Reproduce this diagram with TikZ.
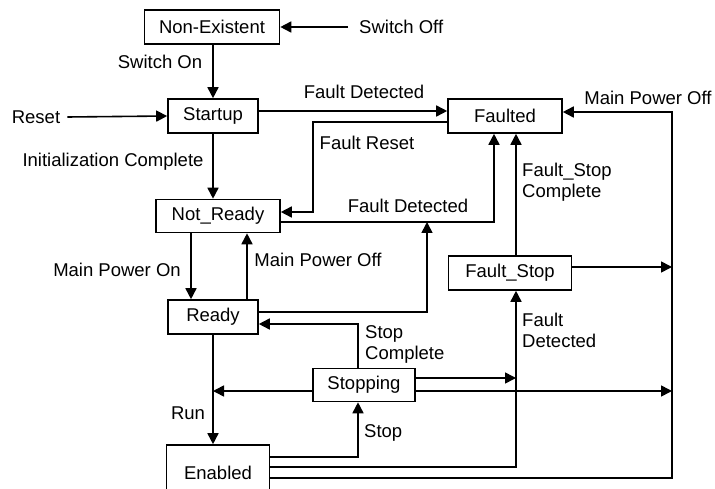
\documentclass[tikz,border=0pt]{standalone}
\usepackage{fontspec}
\setmainfont{Liberation Sans}
\usetikzlibrary{arrows.meta, positioning, calc}

\tikzset{
    state/.style={draw, line width=1.6pt, minimum height=34pt, inner sep=2pt},
    lbl/.style={inner sep=0pt, align=left},
    arr/.style={line width=1.6pt, -{Triangle[length=11pt, width=11pt]}},
}

\begin{document}
\begin{tikzpicture}[x=1pt, y=-1pt, font=\fontsize{18.5}{21}\selectfont]
    \useasboundingbox (0,0) rectangle (715,489);

    % states
    \node[state, minimum width=135pt] (nonex) at (212,27) {Non-Existent};
    \node[state, minimum width=90pt] (startup) at (213,116) {Startup};
    \node[state, minimum width=114pt] (faulted) at (505,116) {Faulted};
    \node[state, minimum width=124pt, minimum height=33pt] (notready) at (218,216) {Not\_Ready};
    \node[state, minimum width=90pt] (ready) at (213,317) {Ready};
    \node[state, minimum width=123pt] (faultstop) at (510,273) {Fault\_Stop};
    \node[state, minimum width=102pt, minimum height=33pt] (stopping) at (364,385) {Stopping};
    \node[state, minimum width=103pt, minimum height=56pt] (enabled) at (218,473) {Enabled};

    % outside events
    \node[lbl, anchor=west] (switchoff) at (359,27) {Switch Off};
    \node[lbl] (reset) at (36,117) {Reset};
    \coordinate (fdjoin) at (427,222);
    \coordinate (mpoff) at (672,112);
    \coordinate (fsrail) at ([xshift=6pt]faultstop.south);

    % transitions
    \draw[arr] ([xshift=-11pt]switchoff.west) -- (nonex.east);
    \draw[arr] (nonex.south -| startup.north) -- (startup.north);
    \draw[arr] ([xshift=7pt]reset.east) -- (startup.west);
    \draw[arr] (startup.south) -- (startup.south |- notready.north);
    \draw[arr] ([yshift=5pt]startup.east) -- ([yshift=5pt]faulted.west);
    \draw[arr] ([yshift=-6pt]faulted.west) -| (313,212) -- ([yshift=4pt]notready.east);
    \draw[arr] ([yshift=-6pt]notready.east) -| ([xshift=-11pt]faulted.south);
    \draw[arr] ([yshift=5pt]ready.east) -| (fdjoin);
    \draw[arr] ([xshift=-27pt]notready.south) -- ([xshift=-27pt]notready.south |- ready.north);
    \draw[arr] ([xshift=34pt]ready.north) -- ([xshift=34pt]ready.north |- notready.south);
    \draw[arr] ([xshift=-6pt]stopping.north) |- ([yshift=-7pt]ready.east);
    \draw[arr] (ready.south) -- (ready.south |- enabled.north);
    \draw[arr] ([yshift=-6pt]stopping.west) -- ([yshift=-6pt]stopping.west -| ready.south);
    \draw[arr] ([yshift=16pt]enabled.east) -| ([xshift=-6pt]stopping.south);
    \draw[arr] ([yshift=6pt]enabled.east) -| (fsrail);
    \draw[arr] ([yshift=7pt]stopping.east) -- ([yshift=7pt]stopping.east -| fsrail);
    \draw[arr] ([yshift=-6pt]stopping.east) -- ([yshift=-6pt]stopping.east -| mpoff);
    \draw[arr] ([yshift=-5pt]enabled.east) -| (mpoff) -- ([yshift=4pt]faulted.east);
    \draw[arr] ([yshift=6pt]faultstop.east) -- ([yshift=6pt]faultstop.east -| mpoff);
    \draw[arr] ([xshift=6pt]faultstop.north) -- ([xshift=6pt]faultstop.north |- faulted.south);

    % labels
    \node[lbl] at (160,62) {Switch On};
    \node[lbl] at (113,162) {Initialization Complete};
    \node[lbl] at (364,92) {Fault Detected};
    \node[lbl] at (367,143) {Fault Reset};
    \node[lbl] at (408,206) {Fault Detected};
    \node[lbl] at (117,270) {Main Power On};
    \node[lbl] at (318,260) {Main Power Off};
    \node[lbl] at (648,98) {Main Power Off};
    \node[lbl, anchor=west] at (522,182) {Fault\_Stop\\Complete};
    \node[lbl, anchor=west] at (365,344) {Stop\\Complete};
    \node[lbl, anchor=west] at (522,330) {Fault\\Detected};
    \node[lbl] at (188,413) {Run};
    \node[lbl, anchor=west] at (364,433) {Stop};
\end{tikzpicture}
\end{document}
